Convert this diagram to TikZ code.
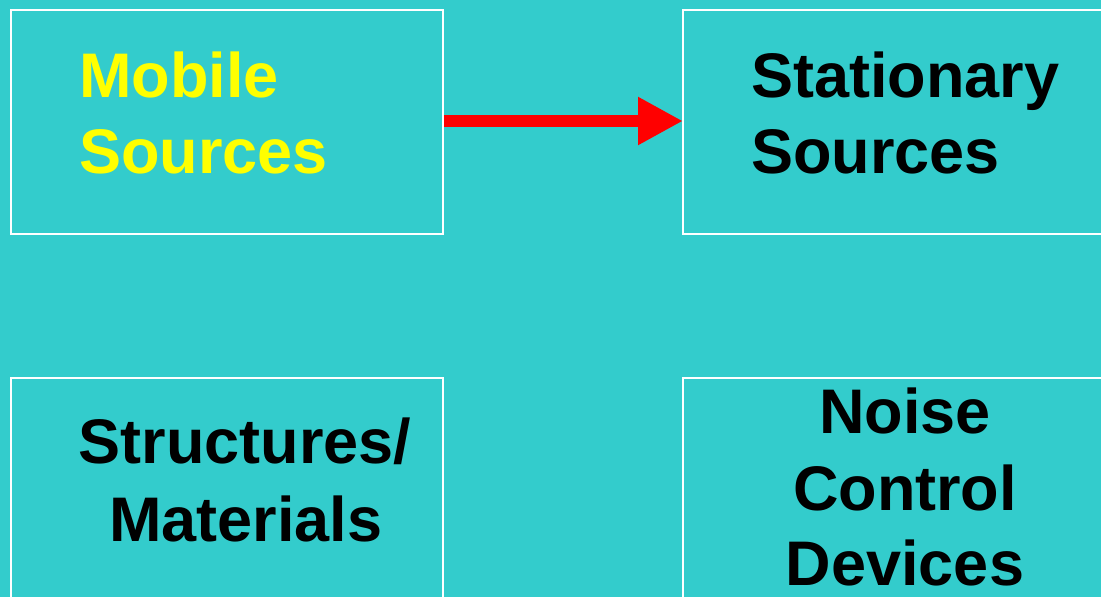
\documentclass[tikz,border=0pt]{standalone}
\usepackage{fontspec}
\setmainfont{Liberation Sans}
\usetikzlibrary{arrows.meta}
\definecolor{bgteal}{HTML}{33CCCC}
\definecolor{labelyellow}{HTML}{FFFF00}
\definecolor{arrowred}{HTML}{FF0000}
\begin{document}
\begin{tikzpicture}[x=1pt,y=1pt,
  panel/.style={draw=white, line width=2pt, fill=none, inner sep=0pt, anchor=north west},
  word/.style={inner sep=0pt, font=\fontsize{63}{75}\selectfont\bfseries},
  link/.style={draw=arrowred, line width=12pt, -{Triangle[length=45pt,width=45pt]}, shorten >=-1pt}
]
\useasboundingbox (0,0) rectangle (1101,-597);
\fill[bgteal] (0,0) rectangle (1101,-597);
\clip (0,0) rectangle (1101,-597);

% four panels
\node[panel, minimum width=432pt, minimum height=224pt] (mobile) at (10,-9) {};
\node[panel, minimum width=440pt, minimum height=224pt] (stationary) at (682,-9) {};
\node[panel, minimum width=432pt, minimum height=240pt] (structures) at (10,-377) {};
\node[panel, minimum width=440pt, minimum height=240pt] (noise) at (682,-377) {};

% panel labels
\node[word, text=labelyellow, anchor=base west] (m1) at (79,-97) {Mobile};
\node[word, text=labelyellow, anchor=base west] (m2) at (79,-173) {Sources};

\node[word, anchor=base west] (s1) at (751,-97) {Stationary};
\node[word, anchor=base west] (s2) at (751,-173) {Sources};

\node[word, anchor=base] (t1) at (245,-463) {Structures/};
\node[word, anchor=base] (t2) at (246,-541) {Materials};

\node[word, anchor=base] (n1) at (905,-433) {Noise};
\node[word, anchor=base] (n2) at (905,-510) {Control};
\node[word, anchor=base] (n3) at (905,-585) {Devices};

% connector
\draw[link] ([yshift=-112pt]mobile.north east) -- ([yshift=-112pt]stationary.north west);
\end{tikzpicture}
\end{document}
